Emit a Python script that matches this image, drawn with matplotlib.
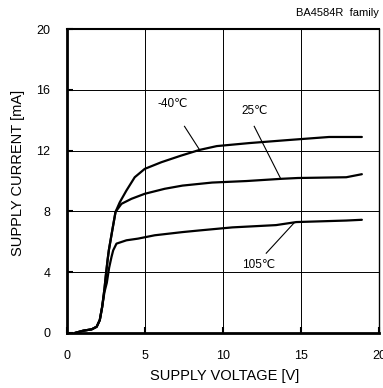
import matplotlib
matplotlib.use("Agg")
import matplotlib.pyplot as plt

# ============================================================
# Dados (corrente de alimentação x tensão)
# ============================================================
v_m40 = [0.5, 1.04, 1.58, 1.9, 2.1, 2.25, 2.4, 2.5, 2.6, 2.68, 2.9, 3.11,
         3.38, 3.81, 4.34, 4.98, 6.05, 7.3, 8.5, 9.6, 11.7, 14.2, 16.8, 18.9]
i_m40 = [0.0, 0.15, 0.24, 0.41, 0.85, 1.7, 2.9, 3.9, 4.8, 5.44, 6.75, 7.97,
         8.6, 9.38, 10.25, 10.8, 11.24, 11.67, 12.05, 12.3, 12.5, 12.7, 12.9, 12.9]

v_25 = [0.5, 1.04, 1.58, 1.9, 2.1, 2.25, 2.4, 2.5, 2.6, 2.68, 2.9, 3.11,
        3.49, 4.13, 4.98, 6.26, 7.4, 9.3, 11.5, 13.8, 14.8, 17.9, 18.9]
i_25 = [0.0, 0.15, 0.24, 0.41, 0.85, 1.7, 2.9, 3.9, 4.8, 5.44, 6.75, 7.97,
        8.5, 8.83, 9.16, 9.49, 9.7, 9.9, 10.0, 10.15, 10.2, 10.25, 10.45]

v_105 = [0.5, 1.04, 1.58, 1.9, 2.1, 2.25, 2.4, 2.55, 2.7, 2.85, 2.96, 3.17,
         3.81, 4.55, 5.62, 7.4, 8.5, 10.6, 13.4, 14.7, 17.9, 18.9]
i_105 = [0.0, 0.15, 0.24, 0.41, 0.85, 1.7, 2.7, 3.3, 4.3, 5.0, 5.44, 5.88,
         6.1, 6.21, 6.43, 6.64, 6.75, 6.95, 7.1, 7.3, 7.4, 7.45]

x_ticks = [0, 5, 10, 15, 20]
y_ticks = [0, 4, 8, 12, 16, 20]

# rótulos: (texto, posição do texto, início da linha, fim da linha)
labels = [
    ("-40\u2103", (6.77, 15.1), (7.53, 13.6), (8.5, 12.05)),
    ("25\u2103", (12.0, 14.6), (12.0, 13.6), (13.7, 10.15)),
    ("105\u2103", (12.26, 4.46), (12.77, 5.25), (14.56, 7.25)),
]

plt.rcParams["font.family"] = ["Liberation Sans", "DejaVu Sans"]

fig = plt.figure(figsize=(3.83, 3.88), dpi=100)
ax = fig.add_axes([0.175, 0.1418, 0.8146, 0.7832])

for v, i in [(v_m40, i_m40), (v_25, i_25), (v_105, i_105)]:
    ax.plot(v, i, color="black", lw=1.6, solid_joinstyle="round",
            solid_capstyle="round", zorder=3)

for txt, pos, p0, p1 in labels:
    ax.text(pos[0], pos[1], txt, fontsize=8.5, ha="center", va="center")
    ax.plot([p0[0], p1[0]], [p0[1], p1[1]], color="black", lw=0.8)

ax.set_xlim(0, 20)
ax.set_ylim(0, 20)
ax.set_xticks(x_ticks)
ax.set_yticks(y_ticks)
ax.grid(True, color="black", lw=0.7)
ax.set_axisbelow(True)

ax.tick_params(direction="in", length=4, width=1.5, labelsize=9, pad=12)
ax.spines["left"].set_linewidth(2.0)
ax.spines["bottom"].set_linewidth(2.0)
ax.spines["top"].set_linewidth(1.5)
ax.spines["right"].set_linewidth(1.0)

ax.set_xlabel("SUPPLY VOLTAGE [V]", fontsize=10.5)
ax.set_ylabel("SUPPLY CURRENT [mA]", fontsize=10.5)
ax.xaxis.set_label_coords(0.505, -0.118)
ax.yaxis.set_label_coords(-0.135, 0.527)

fig.text(0.99, 0.967, "BA4584R  family", fontsize=8, ha="right", va="center")

fig.savefig("out.png", dpi=100)
